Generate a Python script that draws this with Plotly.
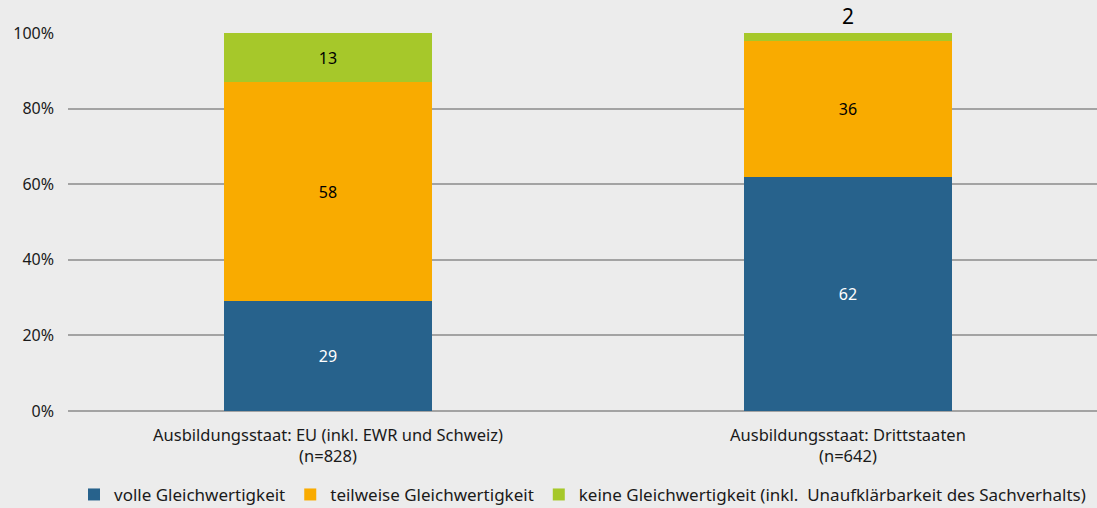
import plotly.graph_objects as go

categories = ["Ausbildungsstaat: EU (inkl. EWR und Schweiz)<br>(n=828)",
              "Ausbildungsstaat: Drittstaaten<br>(n=642)"]
series_names = ["volle Gleichwertigkeit",
                "teilweise Gleichwertigkeit",
                "keine Gleichwertigkeit (inkl.\u00a0 Unaufklärbarkeit des Sachverhalts)"]
volle = [29, 62]
teilweise = [58, 36]
keine = [13, 2]
colors = ["#27628c", "#f9ab00", "#a6c82a"]
y_ticks = [0, 20, 40, 60, 80, 100]
y_ticklabels = ["0%", "20%", "40%", "60%", "80%", "100%"]

FONT = "Noto Sans"
fig = go.Figure()
fig.add_trace(go.Bar(x=categories, y=volle, name=series_names[0], marker_color=colors[0],
                     marker_line_width=0, width=0.4,
                     text=[str(v) for v in volle], textposition="inside",
                     insidetextanchor="middle", constraintext="none",
                     textfont=dict(color="white", size=16, family=FONT)))
fig.add_trace(go.Bar(x=categories, y=teilweise, name=series_names[1], marker_color=colors[1],
                     marker_line_width=0, width=0.4,
                     text=[str(v) for v in teilweise], textposition="inside",
                     insidetextanchor="middle", constraintext="none",
                     textfont=dict(color="black", size=16, family=FONT)))
fig.add_trace(go.Bar(x=categories, y=keine, name=series_names[2], marker_color=colors[2],
                     marker_line_width=0, width=0.4,
                     text=[str(v) for v in keine], textposition=["inside", "outside"],
                     insidetextanchor="middle", cliponaxis=False, constraintext="none",
                     insidetextfont=dict(color="black", size=16, family=FONT),
                     outsidetextfont=dict(color="black", size=21, family=FONT)))

fig.update_layout(
    barmode="stack",
    width=1097, height=508,
    margin=dict(l=68, r=0, t=33, b=97, autoexpand=False),
    paper_bgcolor="#ececec", plot_bgcolor="#ececec",
    font=dict(family=FONT, size=16, color="#1a1a1a"),
    showlegend=True,
    legend=dict(orientation="h", x=0.5, xanchor="center", y=-0.222, yanchor="middle",
                itemwidth=30, traceorder="normal", font=dict(size=17),
                bgcolor="rgba(0,0,0,0)", tracegroupgap=0),
    xaxis=dict(type="category", range=[-0.5, 1.479], showgrid=False, ticks="",
               tickfont=dict(size=16.5), showline=False, zeroline=False,
               ticklabelstandoff=12, automargin=False),
    yaxis=dict(range=[0, 100], tickvals=y_ticks, ticktext=y_ticklabels,
               showgrid=True, gridcolor="#a3a3a3", gridwidth=2,
               zeroline=True, zerolinecolor="#a3a3a3", zerolinewidth=2,
               ticks="", ticklabelstandoff=13, tickfont=dict(size=16), automargin=False),
)
fig.write_html("out.html", config={"displayModeBar": False},
               post_script="document.body.style.margin='0';")
